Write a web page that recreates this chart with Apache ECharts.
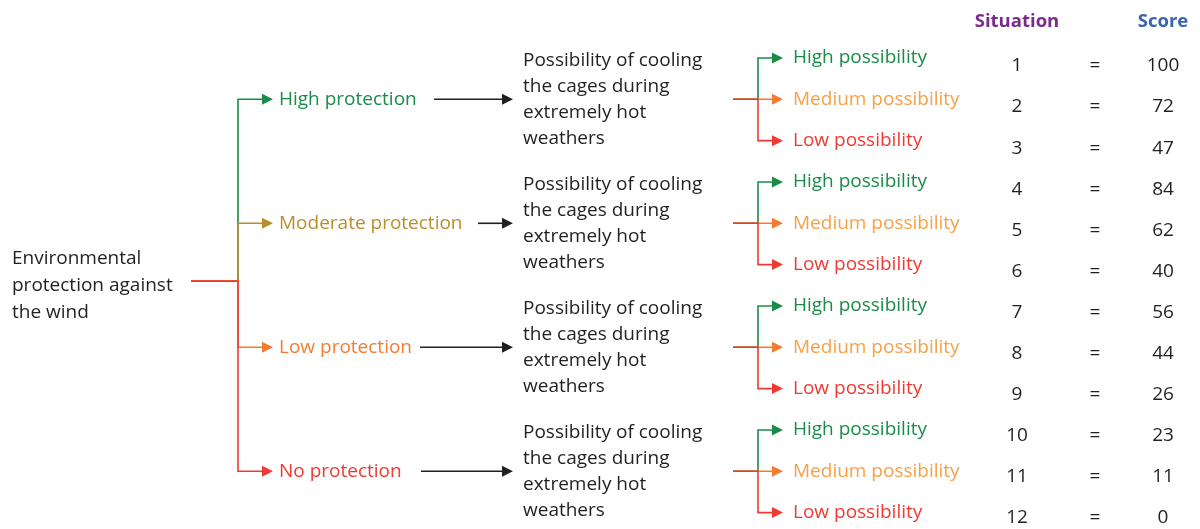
<!DOCTYPE html>
<html>
<head>
<meta charset="utf-8">
<script src="https://cdn.jsdelivr.net/npm/echarts@6/dist/echarts.min.js"></script>
<style>
html,body{margin:0;padding:0;background:#fff;}
#chart{width:1200px;height:529px;}
</style>
</head>
<body>
<div id="chart"></div>
<script>
// ---------- data ----------
const rootLabel = ['Environmental', 'protection against', 'the wind'];
const protectionLevels = ['High protection', 'Moderate protection', 'Low protection', 'No protection'];
const coolingLabel = ['Possibility of cooling', 'the cages during', 'extremely hot', 'weathers'];
const possibilityLevels = ['High possibility', 'Medium possibility', 'Low possibility'];
const tableHeaders = ['Situation', 'Score'];
const situations = [1, 2, 3, 4, 5, 6, 7, 8, 9, 10, 11, 12];
const scores = [100, 72, 47, 84, 62, 40, 56, 44, 26, 23, 11, 0];

// ---------- styles / layout ----------
const protectionColors = ['#1b8c48', '#b88f2e', '#f47b30', '#ee3a32'];
const possibilityLineColors = ['#1b8c48', '#f47b30', '#ee3a32'];
const possibilityTextColors = ['#1b8c48', '#f8a045', '#ee3a32'];
const headerColors = ['#7a2b8c', '#3b63b0'];
const TEXT = '#231f20';
const FONT_FAMILY = '"Open Sans", "Noto Sans", sans-serif';
const FS = 19;
const HEAD_FS = 18.5;
const LINE_H = 26;
const L = {
  rootTextX: 12, rootX0: 191, trunkX: 238, l1Tip: 273, l1LabelX: 279,
  blackStart: [434, 478, 420, 421], blackTip: 513, midTextX: 523,
  subX0: 733, subTrunkX: 758, subTip: 783, subLabelX: 793,
  sitX: 1017, eqX: 1095, scoreX: 1163, headRow: -0.07, rootRowShift: -0.1,
  headLen: 11, headHalf: 5.5, lw: 1.6
};

function font(w, size) { return (w || 'normal') + ' ' + (size || FS) + 'px ' + FONT_FAMILY; }

function arrow(x0, y, tip, color) {
  return [
    { type: 'line', shape: { x1: x0, y1: y, x2: tip - L.headLen + 1, y2: y },
      style: { stroke: color, lineWidth: L.lw } },
    { type: 'polygon', shape: { points: [[tip - L.headLen, y - L.headHalf], [tip, y], [tip - L.headLen, y + L.headHalf]] },
      style: { fill: color } }
  ];
}
function elbow(x0, y0, xv, y1, tip, color) {
  return [
    { type: 'polyline', shape: { points: [[x0, y0], [xv, y0], [xv, y1], [tip - L.headLen + 1, y1]] },
      style: { stroke: color, lineWidth: L.lw, fill: null } },
    { type: 'polygon', shape: { points: [[tip - L.headLen, y1 - L.headHalf], [tip, y1], [tip - L.headLen, y1 + L.headHalf]] },
      style: { fill: color } }
  ];
}
function txt(s, x, y, color, align, weight, size) {
  return { type: 'text', style: { text: s, x: x, y: y, fill: color, font: font(weight, size),
    align: align || 'left', verticalAlign: 'middle' } };
}

const treeData = protectionLevels.map((name, g) => [g, 3 * g + 2]);
const tableData = situations.map((s, i) => [s, scores[i]]);

function renderTree(params, api) {
  const g = params.dataIndex;
  const midRow = api.value(1);
  const rootRow = (treeData.reduce((a, d) => a + d[1], 0) / treeData.length) + L.rootRowShift;
  const yRoot = api.coord([0, rootRow])[1];
  const y = api.coord([0, midRow])[1];
  const c = protectionColors[g];
  let ch = [];
  ch = ch.concat(elbow(L.rootX0, yRoot, L.trunkX, y, L.l1Tip, c));
  ch.push(txt(protectionLevels[g], L.l1LabelX, y, c));
  ch = ch.concat(arrow(L.blackStart[g], y, L.blackTip, TEXT));
  const n = coolingLabel.length;
  coolingLabel.forEach((s, k) => {
    ch.push(txt(s, L.midTextX, y + (k - (n - 1) / 2) * LINE_H, TEXT));
  });
  possibilityLevels.forEach((p, k) => {
    const yr = api.coord([0, midRow - 1 + k])[1];
    ch = ch.concat(elbow(L.subX0, y, L.subTrunkX, yr, L.subTip, possibilityLineColors[k]));
  });
  possibilityLevels.forEach((p, k) => {
    const yr = api.coord([0, midRow - 1 + k])[1];
    ch.push(txt(p, L.subLabelX, yr, possibilityTextColors[k]));
  });
  return { type: 'group', children: ch };
}

function renderRoot(params, api) {
  const rootRow = (treeData.reduce((a, d) => a + d[1], 0) / treeData.length);
  const y = api.coord([0, rootRow])[1];
  const n = rootLabel.length;
  return { type: 'group', children: rootLabel.map((s, k) =>
    txt(s, L.rootTextX, y + (k - (n - 1) / 2) * 27, TEXT)) };
}

function renderTable(params, api) {
  const s = api.value(0), v = api.value(1);
  const y = api.coord([0, s])[1];
  const ch = [
    txt(String(s), L.sitX, y, TEXT, 'center'),
    txt('=', L.eqX, y, TEXT, 'center'),
    txt(String(v), L.scoreX, y, TEXT, 'center')
  ];
  if (params.dataIndex === 0) {
    const yh = api.coord([0, L.headRow])[1];
    ch.push(txt(tableHeaders[0], L.sitX, yh, headerColors[0], 'center', 'bold', HEAD_FS));
    ch.push(txt(tableHeaders[1], L.scoreX, yh, headerColors[1], 'center', 'bold', HEAD_FS));
  }
  return { type: 'group', children: ch };
}

const chart = echarts.init(document.getElementById('chart'), null, { renderer: 'canvas' });
chart.setOption({
  animation: false,
  backgroundColor: '#ffffff',
  grid: { left: 0, right: 0, top: 0, bottom: 0 },
  xAxis: { type: 'value', min: 0, max: 1200, show: false },
  yAxis: [
    { type: 'value', inverse: true, min: -0.403, max: 12.397, show: false },
    { type: 'value', inverse: true, min: -0.606, max: 12.268, show: false }
  ],
  series: [
    { type: 'custom', name: 'root', coordinateSystem: 'cartesian2d', yAxisIndex: 0, silent: true, clip: false,
      data: [[0, 0]], renderItem: renderRoot },
    { type: 'custom', name: 'tree', coordinateSystem: 'cartesian2d', yAxisIndex: 0, silent: true, clip: false,
      data: treeData, renderItem: renderTree },
    { type: 'custom', name: 'table', coordinateSystem: 'cartesian2d', yAxisIndex: 1, silent: true, clip: false,
      data: tableData, renderItem: renderTable }
  ]
});
</script>
</body>
</html>
